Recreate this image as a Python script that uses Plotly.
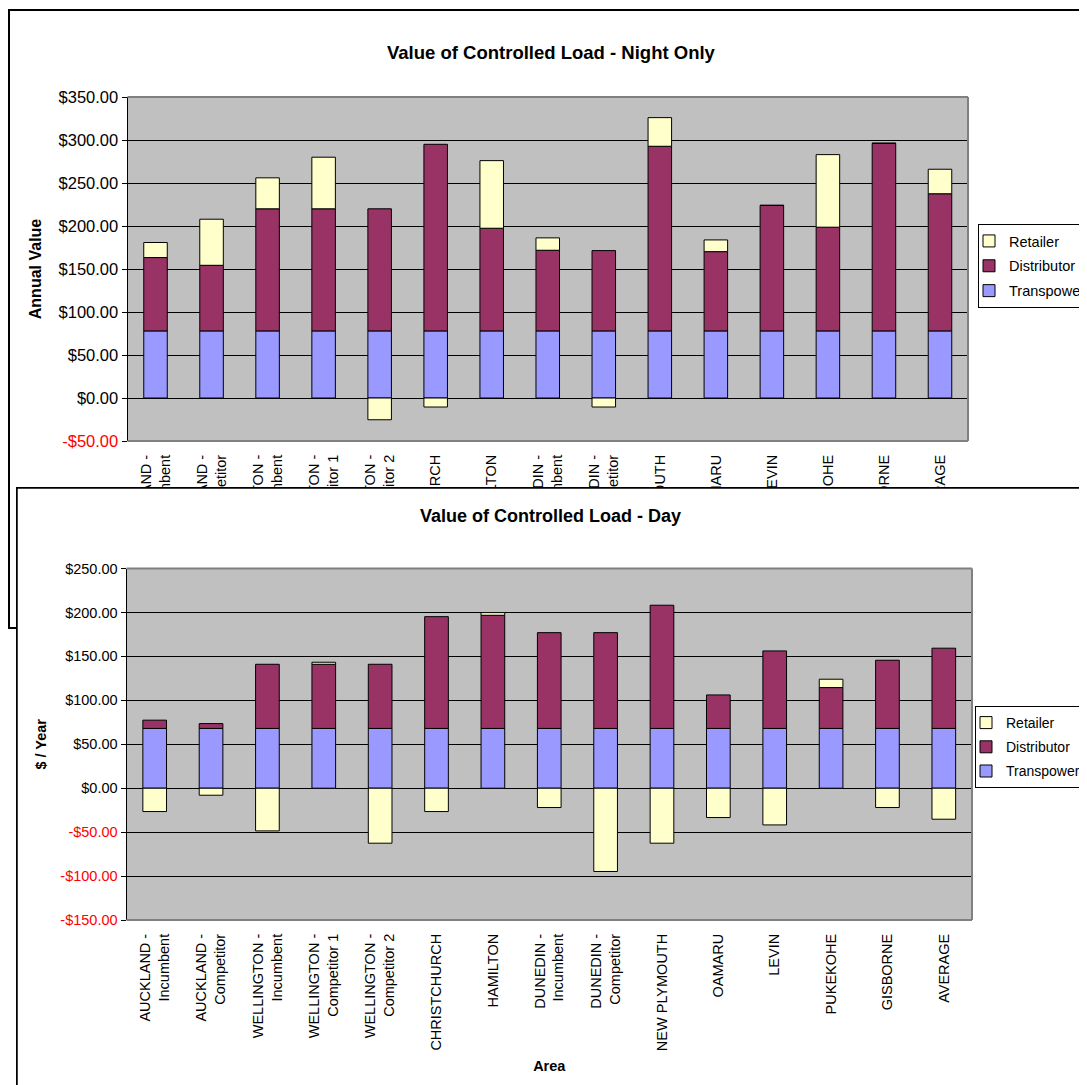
import plotly.graph_objects as go

# The page body adds an 8px margin, so the figure is drawn 8px in from the
# window corner; positions below are given in window pixels and shifted.
OFF = 8
FW, FH = 1087 - OFF, 1085 - OFF
FONT = "Liberation Sans, Arial, sans-serif"

# ---------------- data ----------------
categories = [
    "AUCKLAND - Incumbent", "AUCKLAND - Competitor", "WELLINGTON - Incumbent",
    "WELLINGTON - Competitor 1", "WELLINGTON - Competitor 2", "CHRISTCHURCH",
    "HAMILTON", "DUNEDIN - Incumbent", "DUNEDIN - Competitor", "NEW PLYMOUTH",
    "OAMARU", "LEVIN", "PUKEKOHE", "GISBORNE", "AVERAGE",
]
tick_labels = [
    "AUCKLAND -<br>Incumbent", "AUCKLAND -<br>Competitor", "WELLINGTON -<br>Incumbent",
    "WELLINGTON -<br>Competitor 1", "WELLINGTON -<br>Competitor 2", "CHRISTCHURCH",
    "HAMILTON", "DUNEDIN -<br>Incumbent", "DUNEDIN -<br>Competitor", "NEW PLYMOUTH",
    "OAMARU", "LEVIN", "PUKEKOHE", "GISBORNE", "AVERAGE",
]

night_transpower = [78, 78, 78, 78, 78, 78, 78, 78, 78, 78, 78, 78, 78, 78, 78]
night_distributor = [85.3, 76.3, 142, 142, 142, 217, 119.4, 93.8, 93.4, 214.7, 92.2, 146, 120.6, 218.2, 159.5]
night_retailer = [17.5, 53.6, 36, 60, -25.3, -10.5, 78.6, 14.4, -10.5, 33.3, 13.6, 0, 84.4, 0, 28.5]

day_transpower = [68, 68, 68, 68, 68, 68, 68, 68, 68, 68, 68, 68, 68, 68, 68]
day_distributor = [9.4, 5.5, 73, 73, 73, 127.2, 128.8, 109, 109, 140.2, 38.1, 88.2, 46.5, 77.6, 91.3]
day_retailer = [-26.6, -8, -48.6, 2.3, -62.6, -26.6, 3, -22, -94.8, -62.6, -33.4, -41.8, 9.5, -22, -35.3]

series_names = ["Transpower", "Distributor", "Retailer"]
series_colors = ["#9999FF", "#993366", "#FFFFCC"]
legend_ranks = [3, 2, 1]   # legend lists Retailer first, as in the original

night_ticks = [-50, 0, 50, 100, 150, 200, 250, 300, 350]
day_ticks = [-150, -100, -50, 0, 50, 100, 150, 200, 250]

night_title = "Value of Controlled Load - Night Only"
day_title = "Value of Controlled Load - Day"


# ---------------- helpers ----------------
def fx(px):
    return (px - OFF) / FW


def fy(py):
    return 1 - (py - OFF) / FH


def money(v):
    s = "${:,.2f}".format(abs(v))
    if v < 0:
        return "<span style='color:#FF0000'>-" + s + "</span>"
    return s


top_dx = [fx(127.5), fx(968)]
top_dy = [fy(441), fy(97)]
bot_dx = [fx(126.5), fx(972)]
bot_dy = [fy(920), fy(568.5)]
cov_dx = [fx(16), 1.0]
cov_dy = [0.0, fy(487)]

top_rng = [night_ticks[0], night_ticks[-1]]
bot_rng = [day_ticks[0], day_ticks[-1]]


def zero_frac(dom, rng):
    return dom[0] + (0 - rng[0]) / (rng[1] - rng[0]) * (dom[1] - dom[0])


zt = zero_frac(top_dy, top_rng)
zb = zero_frac(bot_dy, bot_rng)
n = len(categories)
boundaries = [i + 0.5 for i in range(n)]

fig = go.Figure()

for name, color, rank, vals in zip(series_names, series_colors, legend_ranks,
                                   [night_transpower, night_distributor, night_retailer]):
    fig.add_trace(go.Bar(
        x=categories, y=vals, name=name, xaxis="x", yaxis="y",
        marker=dict(color=color, line=dict(color="#000000", width=1)),
        legend="legend", legendgroup="night " + name, legendrank=rank,
    ))

for name, color, rank, vals in zip(series_names, series_colors, legend_ranks,
                                   [day_transpower, day_distributor, day_retailer]):
    fig.add_trace(go.Bar(
        x=categories, y=vals, name=name, xaxis="x3", yaxis="y3",
        marker=dict(color=color, line=dict(color="#000000", width=1)),
        legend="legend2", legendgroup="day " + name, legendrank=rank,
    ))

hidden = dict(showgrid=False, zeroline=False, showticklabels=False, showline=False,
              ticks="", fixedrange=True)

cat_axis = dict(type="category", tickvals=categories, ticktext=tick_labels, tickangle=-90,
                tickfont=dict(family=FONT, size=14.5, color="#000000"),
                ticks="outside", ticklen=7, tickcolor="rgba(0,0,0,0)",
                showgrid=False, zeroline=False, showline=False, fixedrange=True)


def val_axis(ticks, rng, size):
    return dict(range=rng, tickvals=ticks, ticktext=[money(v) for v in ticks],
                tickfont=dict(family=FONT, size=size, color="#000000"),
                ticks="outside", ticklen=5, tickcolor="#000000",
                showline=True, linecolor="#000000", linewidth=1,
                showgrid=True, gridcolor="#000000", gridwidth=1,
                zeroline=True, zerolinecolor="#000000", zerolinewidth=1,
                fixedrange=True)


zero_tick_axis = dict(range=[-0.5, n - 0.5], tickvals=boundaries, ticks="outside",
                      ticklen=5, tickcolor="#000000", tickwidth=1, showticklabels=False,
                      showgrid=False, zeroline=False, showline=True,
                      linecolor="#000000", linewidth=1, fixedrange=True)

legend_common = dict(xanchor="left", yanchor="top",
                     bgcolor="#FFFFFF", bordercolor="#000000", borderwidth=1,
                     traceorder="grouped", tracegroupgap=3, indentation=-10)

fig.update_layout(
    width=FW, height=FH,
    margin=dict(l=0, r=0, t=0, b=0, autoexpand=False),
    paper_bgcolor="#FFFFFF", plot_bgcolor="#C0C0C0",
    barmode="relative", bargap=0.58,
    font=dict(family=FONT, color="#000000"),
    showlegend=True,
    xaxis=dict(domain=top_dx, anchor="y", **cat_axis),
    yaxis=dict(domain=top_dy, anchor="x",
               title=dict(text="Annual Value", font=dict(family=FONT, size=16, weight="bold"),
                          standoff=12),
               **val_axis(night_ticks, top_rng, 16.5)),
    xaxis2=dict(domain=cov_dx, anchor="y2", range=[0, 1], **hidden),
    yaxis2=dict(domain=cov_dy, anchor="x2", range=[0, 1], **hidden),
    xaxis3=dict(domain=bot_dx, anchor="y3",
                title=dict(text="Area", font=dict(family=FONT, size=14.5, weight="bold"),
                           standoff=10),
                **cat_axis),
    yaxis3=dict(domain=bot_dy, anchor="x3",
                title=dict(text="$ / Year", font=dict(family=FONT, size=14.5, weight="bold"),
                           standoff=10),
                **val_axis(day_ticks, bot_rng, 14.5)),
    xaxis4=dict(domain=top_dx, anchor="y5", **zero_tick_axis),
    yaxis5=dict(domain=[zt, zt + 0.01], anchor="x4", range=[0, 1], **hidden),
    xaxis5=dict(domain=bot_dx, anchor="y6", **zero_tick_axis),
    yaxis6=dict(domain=[zb, zb + 0.01], anchor="x5", range=[0, 1], **hidden),
    legend=dict(x=fx(978), y=fy(224), font=dict(family=FONT, size=14.5, color="#000000"),
                **legend_common),
    legend2=dict(x=fx(975), y=fy(706), font=dict(family=FONT, size=14, color="#000000"),
                 **legend_common),
)


# map bottom plot area into cover-axis coordinates
def cov_x(f):
    return (f - cov_dx[0]) / (cov_dx[1] - cov_dx[0])


def cov_y(f):
    return (f - cov_dy[0]) / (cov_dy[1] - cov_dy[0])


shapes = [
    # top chart frame (partly hidden by the bottom chart)
    dict(type="rect", xref="paper", yref="paper", x0=fx(9), x1=1.05, y0=fy(628), y1=fy(10),
         line=dict(color="#000000", width=2), fillcolor="rgba(0,0,0,0)", layer="below"),
    # bottom chart sheet covering the top chart (right/bottom edges run off the page)
    dict(type="rect", xref="x2", yref="y2", x0=0, x1=1.1, y0=-0.1, y1=1,
         line=dict(color="#000000", width=3.5), fillcolor="#FFFFFF", layer="below"),
    # bottom chart plot area background
    dict(type="rect", xref="x2", yref="y2", x0=cov_x(bot_dx[0]), x1=cov_x(bot_dx[1]),
         y0=cov_y(bot_dy[0]), y1=cov_y(bot_dy[1]),
         line=dict(width=0), fillcolor="#C0C0C0", layer="below"),
]
for xr, yr in [("x domain", "y domain"), ("x3 domain", "y3 domain")]:
    for (x0, y0, x1, y1) in [(0, 1, 1, 1), (1, 0, 1, 1), (0, 0, 1, 0)]:
        shapes.append(dict(type="line", xref=xr, yref=yr, x0=x0, y0=y0, x1=x1, y1=y1,
                           line=dict(color="#808080", width=2), layer="above"))
fig.update_layout(shapes=shapes)

fig.add_annotation(text=night_title, xref="paper", yref="paper", x=fx(551), y=fy(40),
                   showarrow=False, font=dict(family=FONT, size=18.5, weight="bold"))
fig.add_annotation(text=day_title, xref="paper", yref="paper", x=fx(550), y=fy(516),
                   showarrow=False, font=dict(family=FONT, size=18, weight="bold"))

fig.write_html("out.html")
